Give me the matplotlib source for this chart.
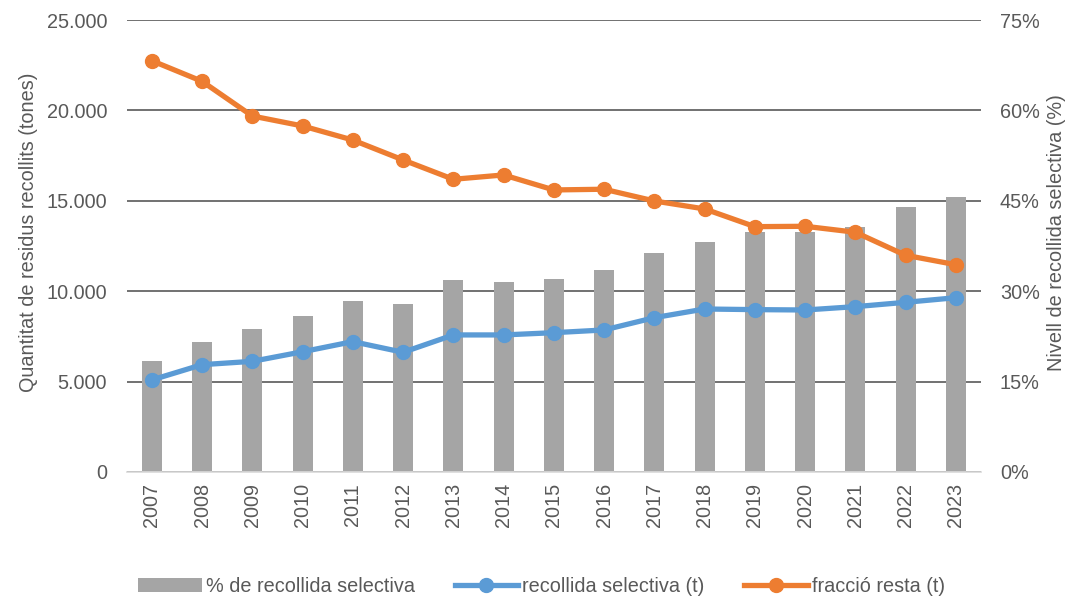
import numpy as np
import matplotlib.pyplot as plt
from matplotlib.ticker import FuncFormatter

plt.rcParams['font.family'] = ['Liberation Sans', 'DejaVu Sans']

years = ['2007', '2008', '2009', '2010', '2011', '2012', '2013', '2014', '2015',
         '2016', '2017', '2018', '2019', '2020', '2021', '2022', '2023']
pct_selectiva = [18.4, 21.6, 23.7, 25.8, 28.3, 27.8, 31.9, 31.5, 32.1,
                 33.5, 36.3, 38.2, 39.9, 39.8, 40.7, 43.9, 45.6]
recollida_selectiva = [5090, 5935, 6120, 6650, 7210, 6620, 7580, 7580, 7705,
                       7855, 8535, 9015, 8980, 8960, 9145, 9385, 9640]
fraccio_resta = [22750, 21610, 19690, 19140, 18360, 17260, 16190, 16430, 15600,
                 15640, 14990, 14550, 13570, 13590, 13260, 11985, 11465]

GREY_TXT = '#595959'
BAR_C = '#a5a5a5'
BLUE = '#5b9bd5'
ORANGE = '#ed7d31'
FS = 14.3

fig = plt.figure(figsize=(10.77, 6.03), dpi=100)
ax = fig.add_axes([0.1176, 0.2173, 0.7933, 0.7495])
ax2 = ax.twinx()

x = np.arange(len(years))

# barres al fons (eix dret), línies a sobre (eix esquerre)
ax.set_zorder(ax2.get_zorder() + 1)
ax.patch.set_visible(False)

bars = ax2.bar(x, pct_selectiva, width=0.4, color=BAR_C, zorder=2,
               label='% de recollida selectiva')
ax2.set_ylim(0, 75)
ax2.set_yticks([0, 15, 30, 45, 60, 75])
ax2.yaxis.set_major_formatter(FuncFormatter(lambda v, p: f'{int(v)}%'))
ax2.yaxis.grid(True, color=GREY_TXT, linewidth=1.2)
ax2.set_axisbelow(True)

l1, = ax.plot(x, recollida_selectiva, color=BLUE, lw=3.8, marker='o', ms=10,
              label='recollida selectiva (t)')
l2, = ax.plot(x, fraccio_resta, color=ORANGE, lw=3.8, marker='o', ms=10,
              label='fracció resta (t)')
ax.set_ylim(0, 25000)
ax.set_yticks(range(0, 25001, 5000))
ax.yaxis.set_major_formatter(
    FuncFormatter(lambda v, p: f'{int(v):,}'.replace(',', '.')))
ax.set_xlim(-0.5, len(years) - 0.5)
ax.set_xticks(x)
ax.set_xticklabels(years, rotation=90)

for a in (ax, ax2):
    for s in a.spines.values():
        s.set_visible(False)
    a.tick_params(length=0, labelsize=FS, colors=GREY_TXT)
ax.spines['bottom'].set_visible(True)
ax.spines['bottom'].set_color('#d9d9d9')
ax.spines['bottom'].set_linewidth(1.2)
ax.tick_params(axis='y', pad=14)
ax.tick_params(axis='x', pad=8)
ax2.tick_params(axis='y', pad=13.5)

ax.set_ylabel('Quantitat de residus recollits (tones)', fontsize=FS,
              color=GREY_TXT, labelpad=6)
ax2.set_ylabel('Nivell de recollida selectiva (%)', fontsize=FS,
               color=GREY_TXT, labelpad=5)
ax.yaxis.label.set_y(0.53)
ax2.yaxis.label.set_y(0.53)

leg = fig.legend(handles=[bars, l1, l2], loc='center', ncol=3,
                 bbox_to_anchor=(0.503, 0.028), frameon=False, fontsize=FS,
                 handlelength=3.2, handletextpad=0.2, columnspacing=2.0)
for t in leg.get_texts():
    t.set_color(GREY_TXT)

fig.savefig('out.png', dpi=100)
